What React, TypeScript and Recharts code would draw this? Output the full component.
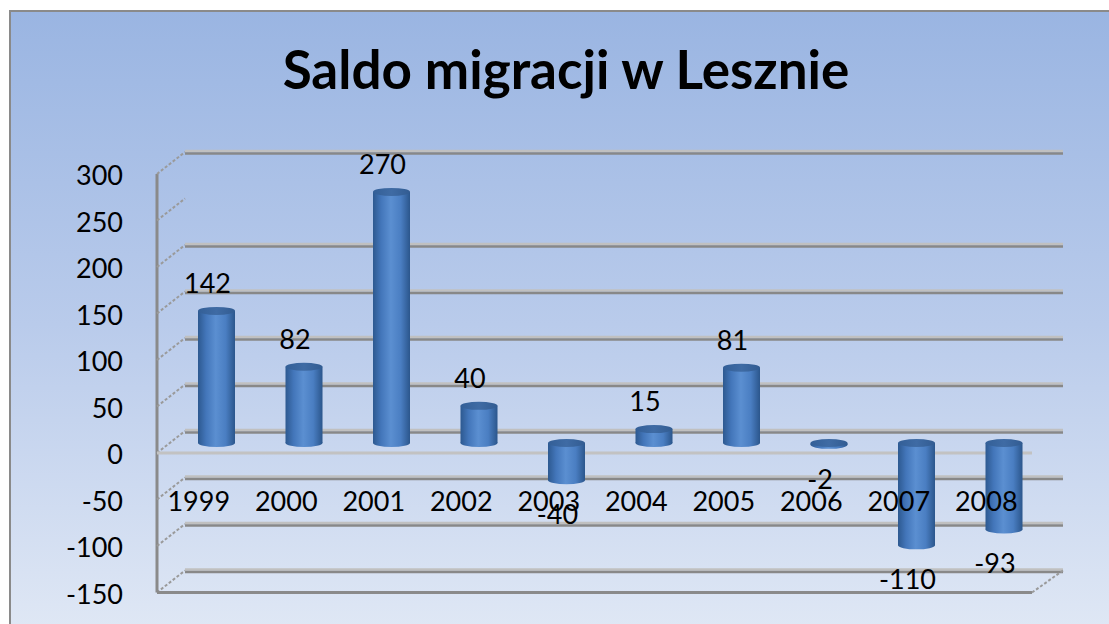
import { BarChart, Bar, XAxis, YAxis, CartesianGrid, LabelList } from "recharts";

const YEARS = ["1999", "2000", "2001", "2002", "2003", "2004", "2005", "2006", "2007", "2008"];
const SALDO = [142, 82, 270, 40, -40, 15, 81, -2, -110, -93];
const Y_TICKS = [-150, -100, -50, 0, 50, 100, 150, 200, 250, 300];

const data = YEARS.map((year, i) => ({ year, saldo: SALDO[i] }));

const W = 1109;
const H = 624;
const PLOT_TOP = 164;
const PLOT_BOTTOM = 582.5;
const PLOT_H = PLOT_BOTTOM - PLOT_TOP;
const Y_MIN = -150;
const Y_MAX = 300;
const ZERO_Y = PLOT_TOP + (PLOT_H * Y_MAX) / (Y_MAX - Y_MIN);

const FONT = "Lato, 'Open Sans', sans-serif";

// 3d look: front plane sits lower-left, back wall upper-right of the bars
const FRONT_DX = -16;
const FRONT_DY = 10;
const BACK_DX = 12;
const BACK_DY = -12;

function GridLine(props: any) {
  const { x1, x2, y1 } = props;
  const v = Math.round(Y_MAX - ((y1 - PLOT_TOP) / PLOT_H) * (Y_MAX - Y_MIN));
  const fx = x1 + FRONT_DX;
  const fy = y1 + FRONT_DY;
  const by = y1 + BACK_DY;
  return (
    <g key={props.key ?? `g-${y1}`}>
      {v !== 250 && (
        <>
          <line x1={x1 + BACK_DX} x2={x2 + 15} y1={by - 1} y2={by - 1} stroke="#c0c0c0" strokeWidth={2.5} />
          <line x1={x1 + BACK_DX} x2={x2 + 15} y1={by + 1.5} y2={by + 1.5} stroke="#888888" strokeWidth={2.5} />
        </>
      )}
      <line x1={fx} y1={fy} x2={x1 + BACK_DX} y2={by} stroke="#9a9a9a" strokeWidth={2} strokeDasharray="3 2" />
      {v === 0 && (
        <line x1={fx} x2={x2 + FRONT_DX} y1={fy} y2={fy} stroke="#c2c2c2" strokeWidth={3} />
      )}
      {v === Y_MIN && (
        <>
          <line x1={fx} x2={x2 + FRONT_DX} y1={fy} y2={fy} stroke="#8a8a8a" strokeWidth={3} />
          <line x1={x2 + FRONT_DX} y1={fy} x2={x2 + 15} y2={by} stroke="#9a9a9a" strokeWidth={2} strokeDasharray="3 2" />
          <line x1={fx} x2={fx} y1={fy} y2={fy - PLOT_H} stroke="#8a8a8a" strokeWidth={3} />
        </>
      )}
    </g>
  );
}

function Cylinder(props: any) {
  const { x, y, width, height } = props;
  const top = Math.min(y, y + height);
  const h = Math.abs(height);
  const cx = x + width / 2;
  const rx = width / 2;
  const ry = 4;
  return (
    <g>
      <rect x={x} y={top} width={width} height={h} fill="url(#cylBody)" />
      <ellipse cx={cx} cy={top + h} rx={rx} ry={ry} fill="url(#cylBody)" />
      <ellipse cx={cx} cy={top} rx={rx} ry={ry} fill="url(#cylTop)" />
    </g>
  );
}

function ValueLabel(props: any) {
  const { x, y, width, height, value } = props;
  const top = Math.min(y, y + height);
  const bottom = Math.max(y, y + height);
  const baseline = value >= 0 ? top - 18 : bottom + 44;
  return (
    <text x={x + width / 2 - 9} y={baseline} textAnchor="middle" fontFamily={FONT} fontSize={27} fill="#000">
      {value}
    </text>
  );
}

function YearTick(props: any) {
  const { x, payload } = props;
  return (
    <text x={x - 18} y={ZERO_Y + 68} textAnchor="middle" fontFamily={FONT} fontSize={27} fill="#000">
      {payload.value}
    </text>
  );
}

function ValueTick(props: any) {
  const { x, y, payload } = props;
  return (
    <text x={x} y={y + 21} textAnchor="end" fontFamily={FONT} fontSize={27} fill="#000">
      {payload.value}
    </text>
  );
}

export default function App() {
  return (
    <div style={{ position: "absolute", left: 0, top: 0, width: W, height: H, overflow: "hidden", background: "#fff" }}>
      <svg width={0} height={0} style={{ position: "absolute" }}>
        <defs>
          <linearGradient id="cylBody" x1="0" x2="1" y1="0" y2="0">
            <stop offset="0%" stopColor="#2d5990" />
            <stop offset="22%" stopColor="#4376ba" />
            <stop offset="48%" stopColor="#5b8fd1" />
            <stop offset="75%" stopColor="#4a7ec2" />
            <stop offset="100%" stopColor="#2b568c" />
          </linearGradient>
          <linearGradient id="cylTop" x1="0" x2="1" y1="0" y2="0">
            <stop offset="0%" stopColor="#335f97" />
            <stop offset="50%" stopColor="#3f6ba4" />
            <stop offset="100%" stopColor="#325c92" />
          </linearGradient>
        </defs>
      </svg>
      <div
        style={{
          position: "absolute",
          left: 9,
          top: 10,
          width: W,
          height: H,
          border: "2px solid #8a8a8a",
          background: "linear-gradient(to bottom, #9ab5e2 0%, #b9cbeb 50%, #e0e8f5 100%)",
        }}
      />
      <div
        style={{
          position: "absolute",
          left: 266,
          top: 42,
          width: 600,
          textAlign: "center",
          fontFamily: FONT,
          fontWeight: 700,
          fontSize: 53,
          lineHeight: 1,
          color: "#000",
        }}
      >
        Saldo migracji w Lesznie
      </div>
      <div style={{ position: "absolute", left: 0, top: 0 }}>
        <BarChart
          width={W}
          height={H}
          data={data}
          margin={{ top: PLOT_TOP, right: 61, bottom: H - PLOT_BOTTOM - 30, left: 0 }}
        >
          <CartesianGrid horizontal={GridLine as any} vertical={false} />
          <XAxis dataKey="year" height={30} axisLine={false} tickLine={false} tick={<YearTick />} interval={0} />
          <YAxis
            width={173}
            domain={[Y_MIN, Y_MAX]}
            ticks={Y_TICKS}
            axisLine={false}
            tickLine={false}
            tickSize={0}
            tickMargin={50}
            tick={<ValueTick />}
            interval={0}
          />
          <Bar dataKey="saldo" barSize={37} shape={<Cylinder />} isAnimationActive={false}>
            <LabelList dataKey="saldo" content={<ValueLabel />} />
          </Bar>
        </BarChart>
      </div>
    </div>
  );
}
